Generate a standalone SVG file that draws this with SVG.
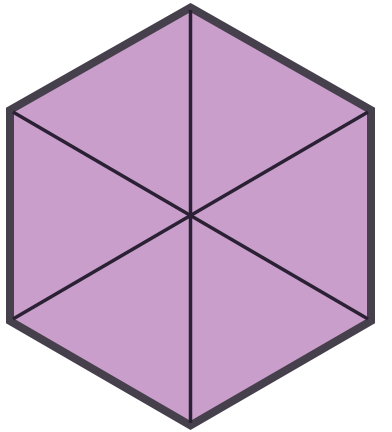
<svg xmlns="http://www.w3.org/2000/svg" width="392" height="432" viewBox="0 0 392 432">
  <style>
    .hex { fill: #ca9ecb; stroke: #46404c; stroke-width: 8; stroke-linejoin: miter; }
    .div { stroke: #2b2135; stroke-width: 3.5; stroke-linecap: butt; fill: none; }
  </style>
  <rect width="392" height="432" fill="#ffffff"/>
  <g id="hexagon">
    <polygon class="hex" points="190.5,7.5 371,110 371,321 190.5,425.5 10,321 10,110"/>
  </g>
  <g id="dividers">
    <line class="div" x1="190.5" y1="10" x2="190.5" y2="423"/>
    <line class="div" x1="13" y1="112" x2="368" y2="319"/>
    <line class="div" x1="13" y1="319" x2="368" y2="112"/>
  </g>
</svg>
